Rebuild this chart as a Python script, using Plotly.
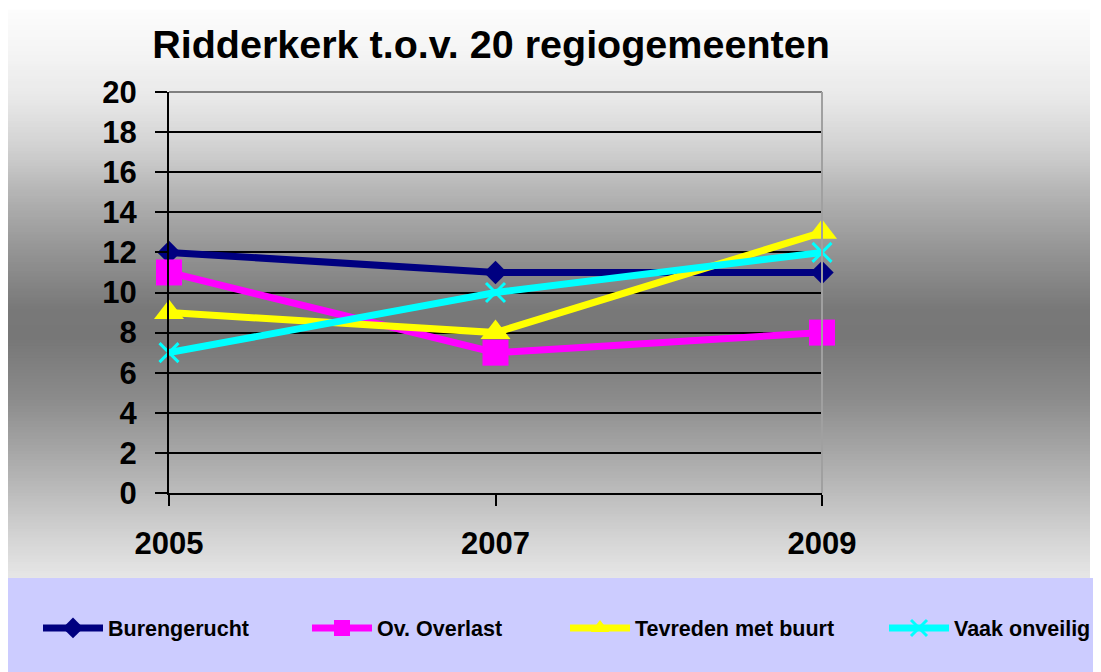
import numpy as np
import plotly.graph_objects as go

# ---- data ----
years = ["2005", "2007", "2009"]
burengerucht = [12, 11, 11]
ov_overlast = [11, 7, 8]
tevreden = [9, 8, 13]
vaak_onveilig = [7, 10, 12]
y_ticks = list(range(0, 21, 2))
title_text = "Ridderkerk t.o.v. 20 regiogemeenten"

OFF = 8  # page body margin
W, H = 1101, 672
FONT = "Liberation Sans, Arial, sans-serif"


def fx(p):
    return (p - OFF) / W


def fy(p):
    return 1 - (p - OFF) / H


fig = go.Figure()

series = [
    dict(name="Burengerucht", y=burengerucht, color="#000080",
         marker=dict(symbol="diamond", size=18, color="#000080"), legend="legend"),
    dict(name="Ov. Overlast", y=ov_overlast, color="#FF00FF",
         marker=dict(symbol="square", size=26, color="#FF00FF"), legend="legend2"),
    dict(name="Tevreden met buurt", y=tevreden, color="#FFFF00",
         marker=dict(symbol="triangle-up", size=26, color="#FFFF00"), legend="legend3"),
    dict(name="Vaak onveilig", y=vaak_onveilig, color="#00FFFF",
         marker=dict(symbol="x-thin", size=19, color="#00FFFF",
                     line=dict(color="#00FFFF", width=3)), legend="legend4"),
]

for s in series:
    fig.add_trace(go.Scatter(
        x=years, y=s["y"], name=s["name"], mode="lines+markers",
        line=dict(color=s["color"], width=7),
        marker=s["marker"], cliponaxis=False, legend=s["legend"],
        showlegend=True,
    ))

# ---- background gradient (chart area) ----
anchors_y = [10, 50, 100, 150, 200, 250, 310, 340, 400, 470, 540, 578]
anchors_g = [252, 245, 232, 208, 176, 149, 120, 119, 140, 176, 213, 230]
shapes = []
step = 3
for y0 in range(10, 578, step):
    y1 = min(y0 + step, 578)
    g = int(round(np.interp((y0 + y1) / 2, anchors_y, anchors_g)))
    col = f"rgb({g},{g},{g})"
    shapes.append(dict(type="rect", xref="paper", yref="paper",
                       x0=fx(7), x1=fx(1090), y0=fy(y1), y1=fy(y0) + 0.0005,
                       fillcolor=col, line=dict(width=0), layer="below"))
# legend band
shapes.append(dict(type="rect", xref="paper", yref="paper",
                   x0=fx(7), x1=1.05, y0=-0.05, y1=fy(578),
                   fillcolor="#CCCCFF", line=dict(width=0), layer="below"))
# plot area border (gray, top and right)
shapes.append(dict(type="line", xref="paper", yref="paper",
                   x0=fx(169), x1=fx(822), y0=fy(92), y1=fy(92),
                   line=dict(color="#808080", width=2), layer="above"))
shapes.append(dict(type="line", xref="paper", yref="paper",
                   x0=fx(822), x1=fx(822), y0=fy(92), y1=fy(493),
                   line=dict(color="#A0A0A0", width=2), layer="above"))

fig.update_layout(
    width=W, height=H, autosize=False,
    margin=dict(l=0, r=0, t=0, b=0),
    showlegend=True,
    paper_bgcolor="white",
    plot_bgcolor="#C0C0C0",
    shapes=shapes,
    title=dict(text=title_text, x=fx(491), xanchor="center",
               y=fy(44), yanchor="middle", xref="paper", yref="paper",
               font=dict(family=FONT, size=39.5, color="black", weight="bold")),
    xaxis=dict(type="category", range=[0, 2], domain=[fx(169), fx(822)],
               showgrid=False, zeroline=False, showline=True,
               linecolor="black", linewidth=2, ticks="outside", ticklen=11,
               tickwidth=2, tickcolor="black", automargin=False,
               ticklabelstandoff=11,
               tickfont=dict(family=FONT, size=31, color="black", weight="bold")),
    yaxis=dict(range=[0, 20], domain=[fy(493), fy(92)], tickvals=y_ticks,
               showgrid=True, gridcolor="black", gridwidth=2, zeroline=False,
               showline=True, linecolor="black", linewidth=2,
               ticks="outside", ticklen=12, tickwidth=2, tickcolor="black",
               automargin=False, ticklabelstandoff=12,
               tickfont=dict(family=FONT, size=31, color="black", weight="bold")),
)

legend_x = [38, 307, 565, 884]
legend_names = ["legend", "legend2", "legend3", "legend4"]
for name, lx in zip(legend_names, legend_x):
    fig.update_layout({name: dict(
        orientation="h", x=fx(lx), y=fy(628), xanchor="left", yanchor="middle",
        xref="paper", yref="paper", bgcolor="rgba(0,0,0,0)", borderwidth=0,
        itemwidth=60, visible=True,
        font=dict(family=FONT, size=21.5, color="black", weight="bold"),
    )})

fig.write_html("out.html")
